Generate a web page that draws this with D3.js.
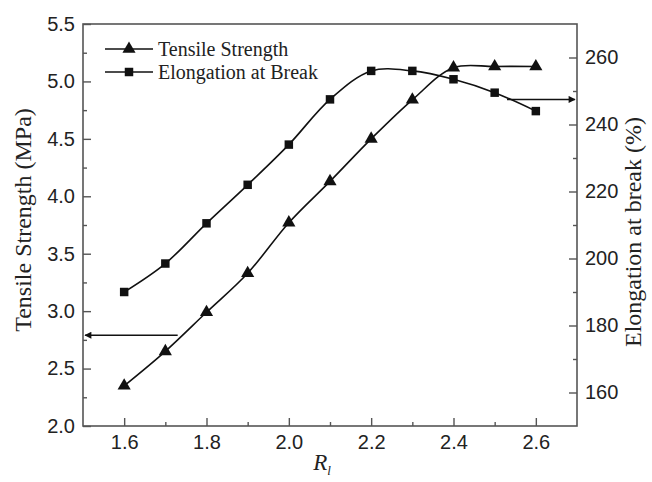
<!DOCTYPE html>
<html><head><meta charset="utf-8">
<script src="https://cdn.jsdelivr.net/npm/d3@7"></script>
<style>body{margin:0;background:#fff}svg{display:block}</style>
</head><body>
<svg id="chart" width="652" height="482"></svg>
<script>
const xValues = [1.6, 1.7, 1.8, 1.9, 2.0, 2.1, 2.2, 2.3, 2.4, 2.5, 2.6];
const tensileStrength = [2.35, 2.65, 2.99, 3.33, 3.77, 4.13, 4.50, 4.84, 5.12, 5.13, 5.13];
const elongation = [190, 198.5, 210.5, 222, 234, 247.5, 256, 256, 253.5, 249.5, 244];
const xTicks = [1.6, 1.8, 2.0, 2.2, 2.4, 2.6];
const leftTicks = [2.0, 2.5, 3.0, 3.5, 4.0, 4.5, 5.0, 5.5];
const rightTicks = [160, 180, 200, 220, 240, 260];
const seriesNames = ["Tensile Strength", "Elongation at Break"];

const svg = d3.select("#chart");
const L = 83, R = 577, T = 24, B = 426;
const x = d3.scaleLinear().domain([1.5, 2.7]).range([L, R]);
const yL = d3.scaleLinear().domain([2.0, 5.5]).range([B, T]);
const yR = d3.scaleLinear().domain([150, 270]).range([B, T]);

const frameColor = "#555";
const tickFont = "Liberation Sans, Arial, sans-serif";
const serif = "Liberation Serif, Times New Roman, serif";

svg.append("rect").attr("x", L).attr("y", T).attr("width", R - L).attr("height", B - T)
  .attr("fill", "none").attr("stroke", frameColor).attr("stroke-width", 1.6);

function styleAxis(g) {
  g.select(".domain").remove();
  g.selectAll("line").attr("stroke", frameColor).attr("stroke-width", 1.4);
  g.selectAll("text").attr("font-family", tickFont).attr("font-size", 20).attr("fill", "#222");
}

const xMinor = [1.7, 1.9, 2.1, 2.3, 2.5];
svg.append("g").attr("transform", `translate(0,${B})`)
  .call(d3.axisBottom(x).tickValues(xTicks).tickFormat(d3.format(".1f")).tickSizeInner(-8).tickSizeOuter(0).tickPadding(9))
  .call(styleAxis);
svg.append("g").attr("transform", `translate(0,${B})`)
  .call(d3.axisBottom(x).tickValues(xMinor).tickFormat("").tickSizeInner(-4).tickSizeOuter(0))
  .call(styleAxis);

const lMinor = [2.25, 2.75, 3.25, 3.75, 4.25, 4.75, 5.25];
svg.append("g").attr("transform", `translate(${L},0)`)
  .call(d3.axisLeft(yL).tickValues(leftTicks).tickFormat(d3.format(".1f")).tickSizeInner(-8).tickSizeOuter(0).tickPadding(8))
  .call(styleAxis);
svg.append("g").attr("transform", `translate(${L},0)`)
  .call(d3.axisLeft(yL).tickValues(lMinor).tickFormat("").tickSizeInner(-4).tickSizeOuter(0))
  .call(styleAxis);

const rMinor = [170, 190, 210, 230, 250];
svg.append("g").attr("transform", `translate(${R},0)`)
  .call(d3.axisRight(yR).tickValues(rightTicks).tickSizeInner(-8).tickSizeOuter(0).tickPadding(8))
  .call(styleAxis);
svg.append("g").attr("transform", `translate(${R},0)`)
  .call(d3.axisRight(yR).tickValues(rMinor).tickFormat("").tickSizeInner(-4).tickSizeOuter(0))
  .call(styleAxis);

svg.append("text").attr("transform", "translate(31,220) rotate(-90)")
  .attr("text-anchor", "middle").attr("font-family", serif).attr("font-size", 24).attr("fill", "#222")
  .text("Tensile Strength (MPa)");
svg.append("text").attr("transform", "translate(641,232) rotate(-90)")
  .attr("text-anchor", "middle").attr("font-family", serif).attr("font-size", 24).attr("fill", "#222")
  .text("Elongation at break (%)");
const xt = svg.append("text").attr("x", 322).attr("y", 470).attr("text-anchor", "middle")
  .attr("font-family", serif).attr("font-size", 23).attr("font-style", "italic").attr("fill", "#222");
xt.append("tspan").text("R");
xt.append("tspan").attr("font-size", 13).attr("dy", 5).text("l");

const ts = xValues.map((v, i) => [v, tensileStrength[i]]);
const el = xValues.map((v, i) => [v, elongation[i]]);
const lineL = d3.line().x(d => x(d[0])).y(d => yL(d[1])).curve(d3.curveCatmullRom.alpha(0.5));
const lineR = d3.line().x(d => x(d[0])).y(d => yR(d[1])).curve(d3.curveCatmullRom.alpha(0.5));
svg.append("path").attr("d", lineL(ts)).attr("fill", "none").attr("stroke", "#111").attr("stroke-width", 1.6);
svg.append("path").attr("d", lineR(el)).attr("fill", "none").attr("stroke", "#111").attr("stroke-width", 1.6);

const tri = d3.symbol().type(d3.symbolTriangle).size(75);
const sq = d3.symbol().type(d3.symbolSquare).size(72);
svg.append("g").selectAll("path").data(ts).join("path")
  .attr("transform", d => `translate(${x(d[0])},${yL(d[1])})`).attr("d", tri).attr("fill", "#111");
svg.append("g").selectAll("path").data(el).join("path")
  .attr("transform", d => `translate(${x(d[0])},${yR(d[1])})`).attr("d", sq).attr("fill", "#111");

const defs = svg.append("defs");
defs.append("marker").attr("id", "ah").attr("viewBox", "0 0 10 10").attr("refX", 9).attr("refY", 5)
  .attr("markerWidth", 9).attr("markerHeight", 7).attr("markerUnits", "userSpaceOnUse").attr("orient", "auto")
  .append("path").attr("d", "M0,0 L10,5 L0,10 Z").attr("fill", "#111");
svg.append("line").attr("x1", x(1.73)).attr("x2", x(1.505)).attr("y1", yL(2.79)).attr("y2", yL(2.79))
  .attr("stroke", "#111").attr("stroke-width", 1.5).attr("marker-end", "url(#ah)");
svg.append("line").attr("x1", x(2.53)).attr("x2", x(2.695)).attr("y1", yR(247.5)).attr("y2", yR(247.5))
  .attr("stroke", "#111").attr("stroke-width", 1.5).attr("marker-end", "url(#ah)");

const legend = svg.append("g");
seriesNames.forEach((name, i) => {
  const ly = 49 + i * 23;
  legend.append("line").attr("x1", 105).attr("x2", 153).attr("y1", ly).attr("y2", ly)
    .attr("stroke", "#111").attr("stroke-width", 1.6);
  legend.append("path").attr("transform", `translate(129,${ly})`).attr("d", i === 0 ? tri : sq).attr("fill", "#111");
  legend.append("text").attr("x", 158).attr("y", ly + 7).attr("font-family", serif).attr("font-size", 20)
    .attr("fill", "#222").text(name);
});
</script>
</body></html>
